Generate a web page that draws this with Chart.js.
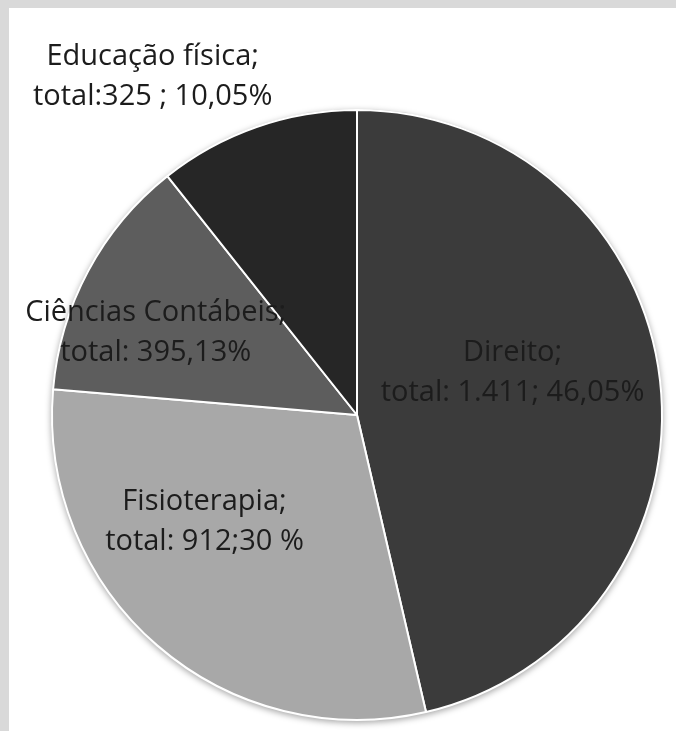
<!DOCTYPE html>
<html>
<head>
<meta charset="utf-8">
<script src="https://cdn.jsdelivr.net/npm/chart.js@4/dist/chart.umd.min.js"></script>
<style>
  html, body { margin: 0; padding: 0; background: #fff; }
  #frame {
    position: absolute; left: 0; top: 0; width: 676px; height: 731px;
    background: #d9d9d9;
  }
  #box {
    position: absolute; left: 9px; top: 8px; width: 667px; height: 723px;
    background: #fff;
  }
  #pie { display: block; }
</style>
</head>
<body>
<div id="frame">
  <div id="box"><canvas id="pie" width="667" height="723"></canvas></div>
</div>
<script>
// dados do gráfico
const cursos = ["Direito", "Fisioterapia", "Ciências Contábeis", "Educação física"];
const totais = [1411, 912, 395, 325];
const rotulos = [
  ["Direito;", "total: 1.411; 46,05%"],
  ["Fisioterapia;", "total: 912;30 %"],
  ["Ciências Contábeis;", "total: 395,13%"],
  ["Educação física;", "total:325 ; 10,05%"],
];
const cores = ["#3b3b3b", "#a8a8a8", "#5d5d5d", "#262626"];

// posição do rótulo em relação ao centro, em frações do raio
const posRotulo = [
  [0.51, -0.14],
  [-0.50, 0.35],
  [-0.66, -0.27],
  [-0.67, -1.11],
];

// sombra suave em volta da pizza
const sombra = {
  id: "sombra",
  beforeDatasetsDraw(chart) {
    const arc = chart.getDatasetMeta(0).data[0];
    if (!arc) return;
    const { x, y, outerRadius } = arc.getProps(["x", "y", "outerRadius"], true);
    const ctx = chart.ctx;
    ctx.save();
    ctx.shadowColor = "rgba(0,0,0,0.35)";
    ctx.shadowBlur = 6;
    ctx.shadowOffsetY = 2;
    ctx.beginPath();
    ctx.arc(x, y, outerRadius + 1, 0, Math.PI * 2);
    ctx.fillStyle = "#c8c8c8";
    ctx.fill();
    ctx.restore();
  },
};

// rótulos de dados
const rotulosPlugin = {
  id: "rotulos",
  afterDatasetsDraw(chart) {
    const meta = chart.getDatasetMeta(0);
    const ctx = chart.ctx;
    ctx.save();
    ctx.font = "29px 'Open Sans'";
    ctx.fillStyle = "#1c1c1c";
    ctx.textAlign = "center";
    ctx.textBaseline = "middle";
    meta.data.forEach((arc, i) => {
      const { x, y, outerRadius } = arc.getProps(["x", "y", "outerRadius"], true);
      const cx = x + posRotulo[i][0] * outerRadius;
      const cy = y + posRotulo[i][1] * outerRadius;
      const linhas = rotulos[i];
      const alt = 40;
      linhas.forEach((t, k) => {
        ctx.fillText(t, cx, cy + (k - (linhas.length - 1) / 2) * alt);
      });
    });
    ctx.restore();
  },
};

new Chart(document.getElementById("pie"), {
  type: "pie",
  data: {
    labels: cursos,
    datasets: [
      {
        data: totais,
        backgroundColor: cores,
        borderColor: "#ffffff",
        borderWidth: 2,
      },
    ],
  },
  options: {
    responsive: false,
    maintainAspectRatio: false,
    animation: false,
    layout: { padding: { left: 42, right: 13, top: 101, bottom: 10 } },
    plugins: {
      legend: { display: false },
      tooltip: { enabled: false },
    },
  },
  plugins: [sombra, rotulosPlugin],
});
</script>
</body>
</html>
